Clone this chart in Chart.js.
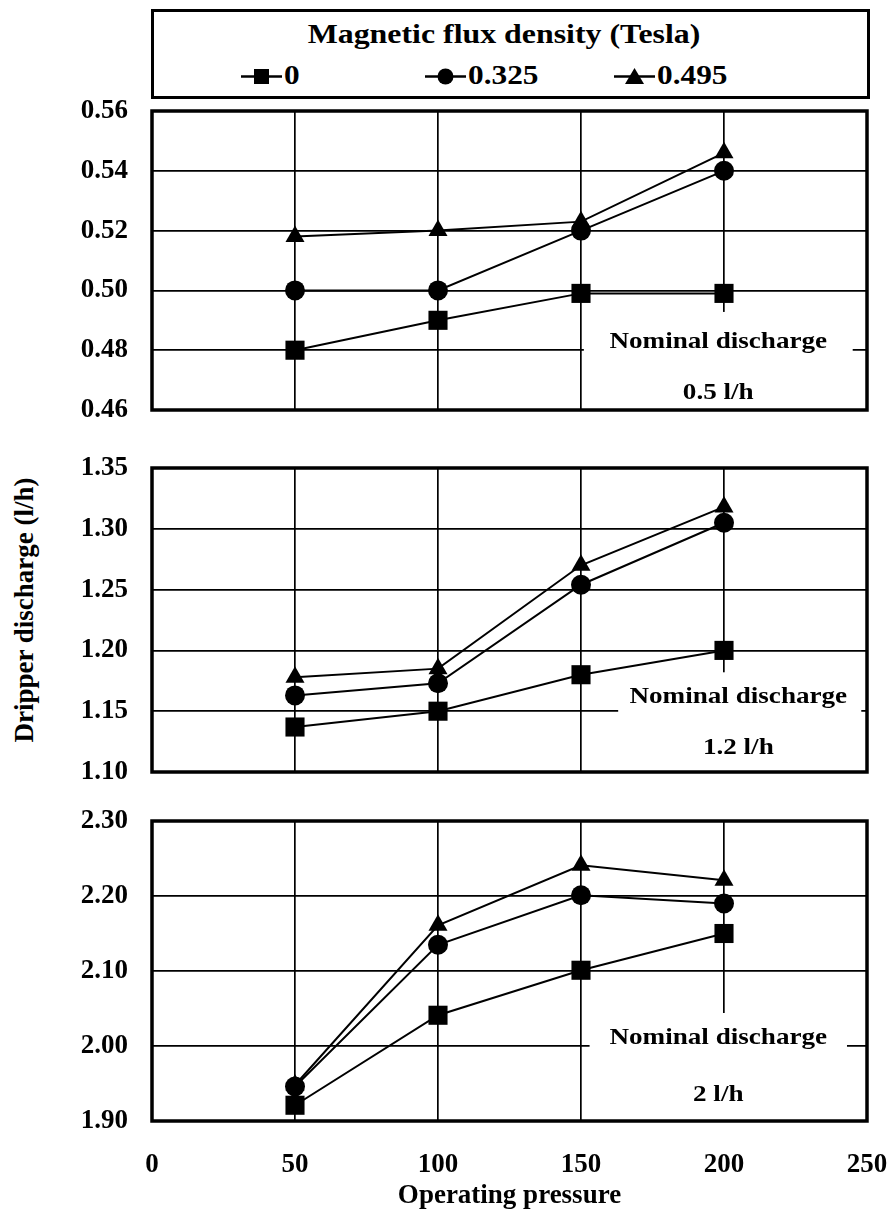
<!DOCTYPE html>
<html>
<head>
<meta charset="utf-8">
<script src="https://cdn.jsdelivr.net/npm/chart.js@4"></script>
<style>
  body { margin: 0; background: #fff; }
  #page {
    position: relative; width: 890px; height: 1211px; background: #fff;
    font-family: "Liberation Serif", "Times New Roman", serif; font-weight: bold; color: #000;
  }
  canvas { position: absolute; left: 0; }
  #legend {
    position: absolute; left: 151px; top: 9px; width: 713px; height: 84px;
    border: 3px solid #000;
  }
  #legend-title {
    position: absolute; left: 350px; top: 22px; font-size: 27px; line-height: 30px; white-space: nowrap;
    transform: translate(-50%, -50%) scaleX(1.18);
  }
  .item {
    position: absolute; top: 63px; font-size: 27px; line-height: 30px; white-space: nowrap;
    transform: translateY(-50%);
  }
  .item svg { vertical-align: -4px; margin-right: 1px; }
  .item span { display: inline-block; transform: scaleX(1.16); transform-origin: left center; }
  #ytitle {
    position: absolute; left: 24px; top: 610px; font-size: 27px; white-space: nowrap;
    transform: translate(-50%, -50%) rotate(-90deg);
  }
</style>
</head>
<body>
<div id="page">
  <div id="legend">
    <div id="legend-title">Magnetic flux density (Tesla)</div>
  </div>
  <div id="ytitle">Dripper discharge (l/h)</div>
  <canvas id="c05"></canvas>
  <canvas id="c12"></canvas>
  <canvas id="c2"></canvas>
</div>
<script>
// =========================================================================
// Data
// =========================================================================
const pressure = [50, 100, 150, 200];
const fluxLabels = ["0", "0.325", "0.495"];
const markerStyles = ["rect", "circle", "triangle"];

// Nominal discharge 0.5 l/h
const q05Flux0 = [0.480, 0.490, 0.499, 0.499];
const q05Flux325 = [0.500, 0.500, 0.520, 0.540];
const q05Flux495 = [0.518, 0.520, 0.523, 0.546];

// Nominal discharge 1.2 l/h
const q12Flux0 = [1.137, 1.150, 1.180, 1.200];
const q12Flux325 = [1.163, 1.173, 1.254, 1.305];
const q12Flux495 = [1.178, 1.185, 1.270, 1.318];

// Nominal discharge 2 l/h
const q2Flux0 = [1.921, 2.041, 2.101, 2.150];
const q2Flux325 = [1.946, 2.135, 2.201, 2.190];
const q2Flux495 = [1.948, 2.161, 2.241, 2.221];

const xTicks = [0, 50, 100, 150, 200, 250];
const yTicks05 = [0.46, 0.48, 0.50, 0.52, 0.54, 0.56];
const yTicks12 = [1.10, 1.15, 1.20, 1.25, 1.30, 1.35];
const yTicks2 = [1.90, 2.00, 2.10, 2.20, 2.30];

const nominalLabels = ["0.5 l/h", "1.2 l/h", "2 l/h"];

// =========================================================================
// Plugins
// =========================================================================
const FONT = "Liberation Serif";

const framePlugin = {
  id: "frame",
  afterDraw(chart) {
    const { ctx, chartArea: a } = chart;
    ctx.save();
    ctx.strokeStyle = "#000";
    ctx.lineWidth = 3.5;
    ctx.strokeRect(a.left, a.top, a.right - a.left, a.bottom - a.top);
    ctx.restore();
  },
};

// white box with the "Nominal discharge" note, placed in data units
const notePlugin = {
  id: "note",
  beforeDatasetsDraw(chart, args, opts) {
    const { ctx, chartArea: a, scales } = chart;
    const x0 = scales.x.getPixelForValue(opts.x0);
    const x1 = scales.x.getPixelForValue(opts.x1);
    const yTop = scales.y.getPixelForValue(opts.yTop);
    ctx.save();
    ctx.fillStyle = "#fff";
    ctx.fillRect(x0, yTop, x1 - x0, a.bottom - yTop);
    ctx.fillStyle = "#000";
    ctx.font = `bold 24px "${FONT}"`;
    ctx.textAlign = "center";
    ctx.textBaseline = "middle";
    for (const t of opts.lines) {
      const px = scales.x.getPixelForValue(t.x);
      const py = scales.y.getPixelForValue(t.y);
      ctx.save();
      ctx.translate(px, py);
      ctx.scale(1.13, 1);
      ctx.fillText(t.text, 0, 0);
      ctx.restore();
    }
    ctx.restore();
  },
};

// =========================================================================
// Panels
// =========================================================================
function makePanel(id, opts) {
  const pad = 20;
  const canvas = document.getElementById(id);
  canvas.style.top = opts.areaTop - pad + "px";
  canvas.width = 890;
  canvas.height = opts.areaBottom - opts.areaTop + pad + opts.bottomExtra;
  canvas.style.width = "890px";
  canvas.style.height = canvas.height + "px";

  const series = [opts.s0, opts.s325, opts.s495];
  const radii = [13.5, 10, 11];
  const tickFont = { family: FONT, size: 27, weight: "bold" };

  return new Chart(canvas, {
    type: "line",
    data: {
      datasets: series.map((vals, i) => ({
        label: fluxLabels[i],
        data: pressure.map((p, k) => ({ x: p, y: vals[k] })),
        borderColor: "#000",
        borderWidth: 2,
        backgroundColor: "#000",
        pointStyle: markerStyles[i],
        pointRadius: radii[i],
        pointBackgroundColor: "#000",
        pointBorderColor: "#000",
        pointBorderWidth: 0,
        tension: 0,
        clip: false,
      })),
    },
    options: {
      responsive: false,
      animation: false,
      events: [],
      layout: { autoPadding: false, padding: { top: pad, right: 23, left: 0, bottom: 0 } },
      plugins: {
        legend: { display: false },
        tooltip: { enabled: false },
        note: opts.note,
      },
      scales: {
        x: {
          type: "linear",
          min: xTicks[0],
          max: xTicks[xTicks.length - 1],
          afterBuildTicks: (s) => { s.ticks = xTicks.map((v) => ({ value: v })); },
          ticks: {
            display: opts.showX,
            color: "#000",
            font: tickFont,
            padding: 0,
            maxRotation: 0,
          },
          // invisible tick marks keep the labels away from the frame
          grid: { color: "#000", lineWidth: 1.7, drawTicks: true, tickLength: 28, tickColor: "rgba(0,0,0,0)" },
          border: { display: false },
          title: {
            display: opts.showX,
            text: "Operating pressure",
            color: "#000",
            font: { family: FONT, size: 27, weight: "bold", lineHeight: 1.05 },
            padding: { top: 0, bottom: 1 },
          },
          afterFit: (s) => { s.height = opts.bottomExtra; },
        },
        y: {
          type: "linear",
          min: opts.yTicks[0],
          max: opts.yTicks[opts.yTicks.length - 1],
          afterBuildTicks: (s) => { s.ticks = opts.yTicks.map((v) => ({ value: v })); },
          ticks: {
            color: "#000",
            font: tickFont,
            padding: 0,
            callback: (v) => v.toFixed(2),
          },
          grid: { color: "#000", lineWidth: 1.7, drawTicks: true, tickLength: 24, tickColor: "rgba(0,0,0,0)" },
          border: { display: false },
          afterFit: (s) => { s.width = 152; },
        },
      },
    },
    plugins: [notePlugin, framePlugin],
  });
}

makePanel("c05", {
  areaTop: 111, areaBottom: 410, bottomExtra: 18, showX: false,
  yTicks: yTicks05, s0: q05Flux0, s325: q05Flux325, s495: q05Flux495,
  note: {
    x0: 151, x1: 245, yTop: 0.4928,
    lines: [
      { text: "Nominal discharge", x: 198, y: 0.4827 },
      { text: nominalLabels[0], x: 198, y: 0.4657 },
    ],
  },
});

makePanel("c12", {
  areaTop: 468, areaBottom: 772, bottomExtra: 18, showX: false,
  yTicks: yTicks12, s0: q12Flux0, s325: q12Flux325, s495: q12Flux495,
  note: {
    x0: 163, x1: 248, yTop: 1.182,
    lines: [
      { text: "Nominal discharge", x: 205, y: 1.1617 },
      { text: nominalLabels[1], x: 205, y: 1.1197 },
    ],
  },
});

makePanel("c2", {
  areaTop: 821, areaBottom: 1121, bottomExtra: 90, showX: true,
  yTicks: yTicks2, s0: q2Flux0, s325: q2Flux325, s495: q2Flux495,
  note: {
    x0: 153, x1: 243, yTop: 2.044,
    lines: [
      { text: "Nominal discharge", x: 198, y: 2.0107 },
      { text: nominalLabels[2], x: 198, y: 1.9347 },
    ],
  },
});

// =========================================================================
// Legend (HTML, built from the series names)
// =========================================================================
function markerSvg(style) {
  let mark = "";
  if (style === "rect") mark = '<rect x="14" y="4" width="15" height="15" fill="#000"/>';
  if (style === "circle") mark = '<circle cx="21.5" cy="11.5" r="8" fill="#000"/>';
  if (style === "triangle") mark = '<polygon points="21.5,3 31,19 12,19" fill="#000"/>';
  return `<svg width="43" height="23" viewBox="0 0 43 23">` +
    `<line x1="1" y1="11.5" x2="42" y2="11.5" stroke="#000" stroke-width="2.5"/>${mark}</svg>`;
}

const legendLeft = [86, 270, 459];
const legendEl = document.getElementById("legend");
fluxLabels.forEach((lab, i) => {
  const div = document.createElement("div");
  div.className = "item";
  div.style.left = legendLeft[i] + "px";
  div.innerHTML = markerSvg(markerStyles[i]) + `<span>${lab}</span>`;
  legendEl.appendChild(div);
});
</script>
</body>
</html>
